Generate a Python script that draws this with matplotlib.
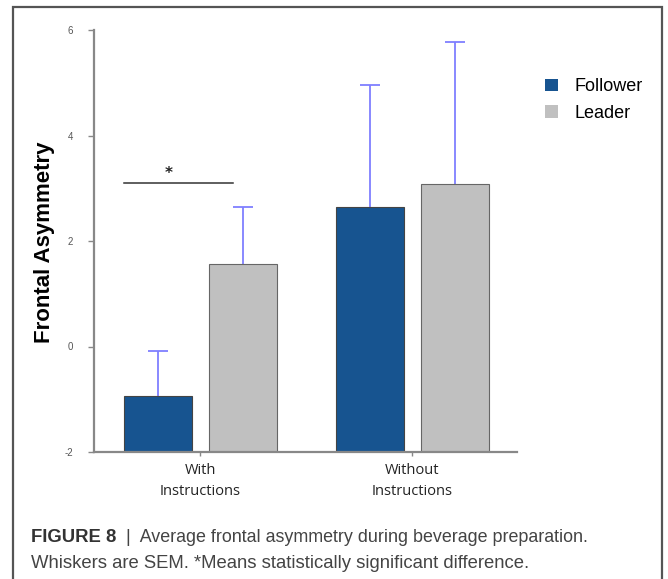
import matplotlib
matplotlib.use("Agg")
import matplotlib.pyplot as plt
from matplotlib.patches import Patch, Rectangle
import numpy as np

conditions = ["With\nInstructions", "Without\nInstructions"]
groups = ["Follower", "Leader"]
follower_mean = [-0.93, 2.65]
follower_sem = [0.84, 2.30]
leader_mean = [1.56, 3.09]
leader_sem = [1.08, 2.69]
yticks = [-2, 0, 2, 4, 6]

blue = "#175490"
grey = "#c0c0c0"
whisker = "#7f7fff"

W, H = 668, 579
fig = plt.figure(figsize=(W / 100, H / 100), dpi=100)

# outer frame of the figure panel
fig.patches.append(Rectangle((13 / W, -0.05), (662 - 13) / W, 1.05 - 7 / H,
                             transform=fig.transFigure, fill=False,
                             edgecolor="#555555", lw=1.6))

ax = fig.add_axes([94 / W, (H - 452) / H, (517 - 94) / W, 422 / H])
ymin = -2
x = np.arange(len(conditions))
bw = 0.32
off = 0.2
# bars rise from the bottom of the axis
ax.bar(x - off, np.array(follower_mean) - ymin, bw, bottom=ymin, color=blue,
       edgecolor="#444444", lw=0.8, zorder=2)
ax.bar(x + off, np.array(leader_mean) - ymin, bw, bottom=ymin, color=grey,
       edgecolor="#666666", lw=0.8, zorder=2)
for xs, m, e in [(x - off, follower_mean, follower_sem),
                 (x + off, leader_mean, leader_sem)]:
    _, caps, _ = ax.errorbar(xs, m, yerr=[np.zeros(2), e], fmt="none",
                             ecolor=whisker, elinewidth=1.3, capsize=7.2,
                             capthick=1.3, zorder=1)
    caps[0].set_visible(False)  # upper whiskers only

ax.set_ylim(ymin, 6)
ax.set_xlim(-0.502, 1.493)

# significance marker
ax.plot([x[0] - off - bw / 2, x[0] + 0.153], [3.10, 3.10], color="#333333", lw=1.1)
ax.text(x[0] - 0.149, 3.14, "*", ha="center", va="bottom", fontsize=11,
        fontweight="bold", color="#222222")

for s in ["top", "right"]:
    ax.spines[s].set_visible(False)
for s in ["left", "bottom"]:
    ax.spines[s].set_color("#888888")
    ax.spines[s].set_linewidth(1.6)

ax.set_yticks(yticks)
ax.set_yticklabels([str(v) for v in yticks], fontsize=7, color="#555555",
                   family="Liberation Sans")
ax.tick_params(axis="y", length=4, width=1, color="#888888", pad=11)
ax.set_xticks(x)
ax.set_xticklabels(conditions, fontsize=10.5, family="Open Sans",
                   color="#222222", linespacing=1.5)
ax.tick_params(axis="x", length=3, width=1, color="#888888", pad=5)

fig.text(45 / W, 1 - 242 / H, "Frontal Asymmetry", rotation=90, ha="center",
         va="center", fontsize=16, fontweight="bold", family="Liberation Sans")

handles = [Patch(facecolor=blue, edgecolor="none"),
           Patch(facecolor=grey, edgecolor="none")]
fig.legend(handles, groups, loc="upper left", bbox_to_anchor=(529 / W, 1 - 62 / H),
           frameon=False, prop={"family": "Liberation Sans", "size": 13},
           handlelength=0.72, handleheight=0.72, handletextpad=0.9, labelspacing=0.55)

# caption
cap_x = 31 / W
cap_y1, cap_y2 = 1 - 538 / H, 1 - 563 / H
cap_bold = fig.text(cap_x, cap_y1, "FIGURE 8", fontsize=13.3, fontweight="bold",
                    family="Liberation Sans", color="#333333", va="center")
fig.canvas.draw()
bb = cap_bold.get_window_extent()
fig.text(bb.x1 / W, cap_y1, "  |  Average frontal asymmetry during beverage preparation.",
         fontsize=12.9, family="Liberation Sans", color="#444444", va="center")
fig.text(cap_x, cap_y2, "Whiskers are SEM. *Means statistically significant difference.",
         fontsize=13.3, family="Liberation Sans", color="#444444", va="center")

fig.savefig("out.png", dpi=100)
